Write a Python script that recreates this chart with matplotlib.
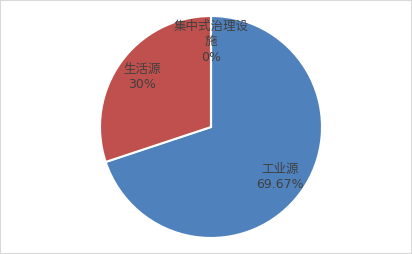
import matplotlib
matplotlib.use("Agg")
import matplotlib.pyplot as plt
from matplotlib.patches import Rectangle

plt.rcParams['font.family'] = ['DejaVu Sans', 'Noto Sans CJK SC']

categories = ['工业源', '生活源', '集中式治理设\n施']
values = [69.67, 30.0, 0.0]
pct_labels = ['69.67%', '30%', '0%']
colors = ['#4F81BD', '#C0504D', '#9BBB59']

fig = plt.figure(figsize=(4.12, 2.54), dpi=100)
ax = fig.add_axes([0, 0, 1, 1])
R = 111.0

labels = [f"{c}\n{p}" for c, p in zip(categories, pct_labels)]
wedges, texts = ax.pie(values, colors=colors, startangle=90, counterclock=False,
                       radius=1.0, labels=labels, labeldistance=0.77,
                       wedgeprops=dict(edgecolor='white', linewidth=1.5),
                       textprops=dict(color='#404040', fontsize=9, ha='center', va='center',
                                      linespacing=1.25))
for t in texts:
    t.set_ha('center')
    t.set_va('center')

ax.set_xlim(-211 / R, (412 - 211) / R)
ax.set_ylim(-127 / R, 127 / R)
ax.set_aspect('equal')
ax.axis('off')

fig.patches.append(Rectangle((0, 0), 1, 1, transform=fig.transFigure, fill=False,
                             edgecolor='#D9D9D9', linewidth=1.5))
fig.savefig('out.png', dpi=100)
